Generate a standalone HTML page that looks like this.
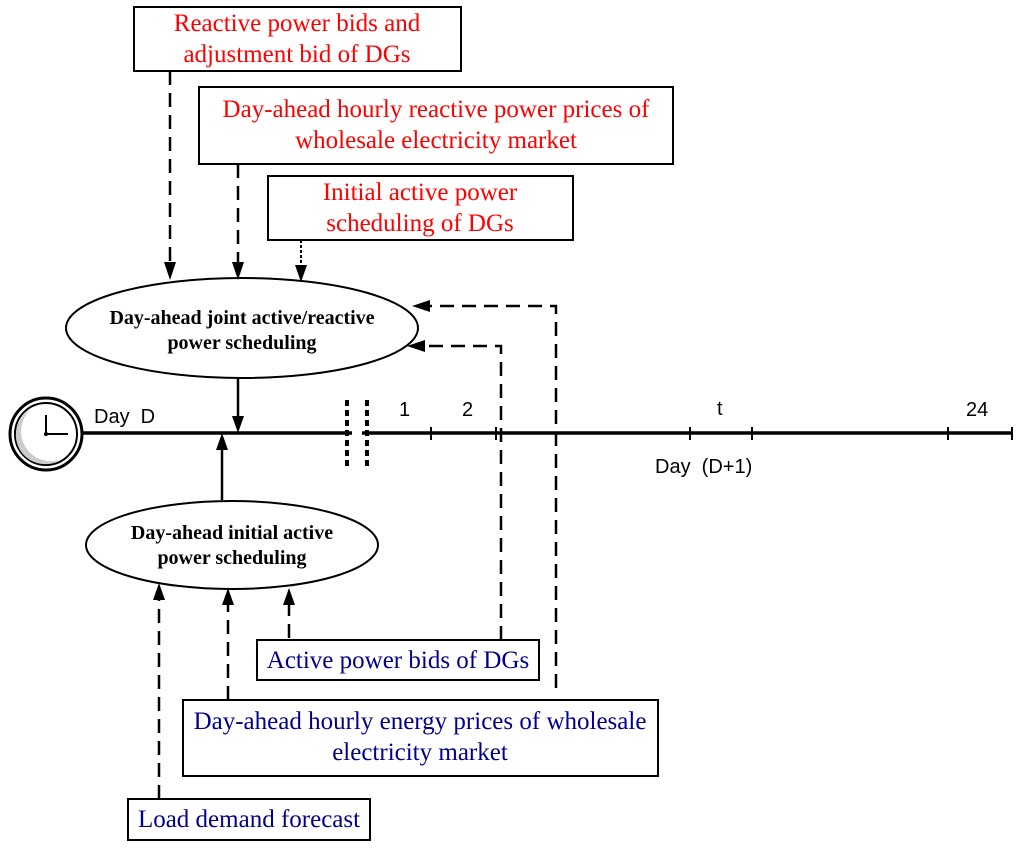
<!DOCTYPE html>
<html><head><meta charset="utf-8"><style>
html,body{margin:0;padding:0;background:#fff;}
svg{display:block;}
.r{fill:#f00;font-family:"Liberation Serif",serif;font-size:25px;text-anchor:middle;}
.b{fill:#00008b;font-family:"Liberation Serif",serif;font-size:25px;text-anchor:middle;}
.e{fill:#000;font-family:"Liberation Serif",serif;font-size:20px;font-weight:bold;text-anchor:middle;}
.s{fill:#000;font-family:"Liberation Sans",sans-serif;font-size:20px;white-space:pre;}
</style></head><body>
<svg width="1024" height="849" viewBox="0 0 1024 849" xmlns="http://www.w3.org/2000/svg">
<g fill="#fff" stroke="#000" stroke-width="2">
<rect x="134" y="7" width="327" height="64"/>
<rect x="199" y="87" width="474" height="77"/>
<rect x="268" y="176" width="305" height="64"/>
<rect x="257" y="640" width="282" height="40"/>
<rect x="183" y="700" width="475" height="76"/>
<rect x="128" y="799" width="242" height="41"/>
</g>
<text class="r" x="297" y="31">Reactive power bids and</text>
<text class="r" x="297" y="62">adjustment bid of DGs</text>
<text class="r" x="436" y="117">Day-ahead hourly reactive power prices of</text>
<text class="r" x="436" y="148">wholesale electricity market</text>
<text class="r" x="420" y="200">Initial active power</text>
<text class="r" x="420" y="231">scheduling of DGs</text>
<text class="b" x="398" y="668">Active power bids of DGs</text>
<text class="b" x="420" y="729">Day-ahead hourly energy prices of wholesale</text>
<text class="b" x="420" y="760">electricity market</text>
<text class="b" x="249" y="827">Load demand forecast</text>

<ellipse cx="242" cy="328" rx="176" ry="50" fill="#fff" stroke="#000" stroke-width="2"/>
<text class="e" x="242" y="324">Day-ahead joint active/reactive</text>
<text class="e" x="242" y="349">power scheduling</text>
<ellipse cx="232" cy="545" rx="146" ry="44" fill="#fff" stroke="#000" stroke-width="2"/>
<text class="e" x="232" y="539">Day-ahead initial active</text>
<text class="e" x="232" y="564">power scheduling</text>

<g stroke="#000" stroke-width="2.5" fill="none">
<line x1="170" y1="71" x2="170" y2="262" stroke-dasharray="14,8"/>
<line x1="238" y1="164" x2="238" y2="262" stroke-dasharray="14,8"/>
<line x1="301" y1="240" x2="301" y2="265" stroke-dasharray="3,2" stroke-width="2"/>
<polyline points="556,688 556,306 430,306" stroke-dasharray="14,8"/>
<polyline points="501,640 501,346 425,346" stroke-dasharray="14,8"/>
<line x1="238" y1="378" x2="238" y2="418"/>
<line x1="222" y1="500" x2="222" y2="448"/>
<line x1="159" y1="799" x2="159" y2="600" stroke-dasharray="14,8"/>
<line x1="228" y1="700" x2="228" y2="605" stroke-dasharray="14,8"/>
<line x1="289" y1="638" x2="289" y2="605" stroke-dasharray="14,8"/>
<line x1="80" y1="433" x2="1013" y2="433" stroke-width="3.5"/>
<line x1="347" y1="400" x2="347" y2="467" stroke-dasharray="6,4" stroke-width="4"/>
<line x1="367" y1="400" x2="367" y2="467" stroke-dasharray="6,4" stroke-width="4"/>
</g>
<rect x="352" y="420" width="10" height="26" fill="#fff"/>
<g stroke="#000" stroke-width="2">
<line x1="431" y1="427" x2="431" y2="440"/>
<line x1="496" y1="427" x2="496" y2="440"/>
<line x1="690" y1="427" x2="690" y2="440"/>
<line x1="752" y1="427" x2="752" y2="440"/>
<line x1="948" y1="427" x2="948" y2="440"/>
<line x1="1012" y1="427" x2="1012" y2="440"/>
</g>
<g fill="#000">
<polygon points="164,262 176,262 170,280"/>
<polygon points="232,262 244,262 238,280"/>
<polygon points="295,265 307,265 301,282"/>
<polygon points="430,300 430,312 412,306"/>
<polygon points="425,340 425,352 407,346"/>
<polygon points="232,416 244,416 238,433"/>
<polygon points="216,450 228,450 222,433"/>
<polygon points="153,600 165,600 159,583"/>
<polygon points="222,605 234,605 228,588"/>
<polygon points="283,605 295,605 289,588"/>
</g>
<text class="s" x="94" y="423">Day  D</text>
<text class="s" x="399" y="416">1</text>
<text class="s" x="462" y="416">2</text>
<text class="s" x="717" y="415">t</text>
<text class="s" x="966" y="416">24</text>
<text class="s" x="655" y="473">Day  (D+1)</text>
<g>
<circle cx="46" cy="434" r="36" fill="#fff" stroke="#000" stroke-width="3"/>
<circle cx="46" cy="434" r="31" fill="#fff" stroke="#000" stroke-width="2"/>
<path d="M30,410 A28,28 0 0,0 60,460 A30,30 0 0,1 30,410Z" fill="#ccc"/>
<line x1="46" y1="434" x2="46" y2="415" stroke="#000" stroke-width="2"/>
<line x1="46" y1="434" x2="68" y2="434" stroke="#000" stroke-width="2"/>
<circle cx="46" cy="434" r="2" fill="#000"/>
</g>
</svg>
</body></html>
